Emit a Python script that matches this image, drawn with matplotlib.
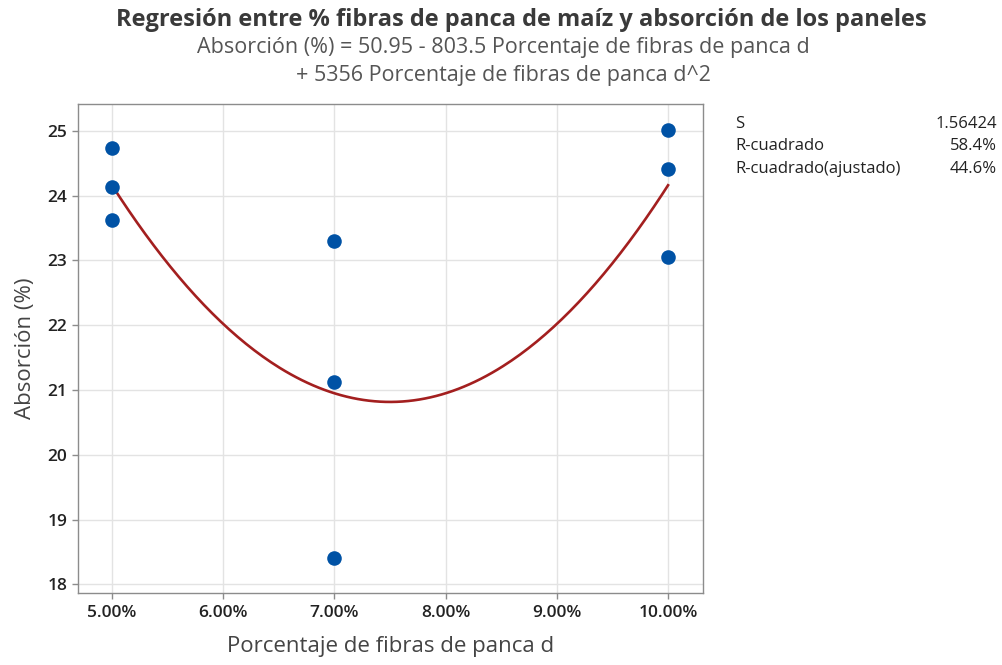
import numpy as np
import matplotlib
matplotlib.use('Agg')
import matplotlib.pyplot as plt
from matplotlib.ticker import FuncFormatter

plt.rcParams['font.family'] = ['Open Sans', 'DejaVu Sans']

# data (fraction of fibres, absorption %)
fibra = [0.05, 0.05, 0.05, 0.07, 0.07, 0.07, 0.10, 0.10, 0.10]
absorcion = [24.73, 24.14, 23.62, 23.30, 21.13, 18.40, 25.02, 24.41, 23.06]

# regression coefficients from the chart subtitle
coef_b0 = 50.95
coef_b1 = -803.5
coef_b2 = 5356

x_ticks = [0.05, 0.06, 0.07, 0.08, 0.09, 0.10]
y_ticks = [18, 19, 20, 21, 22, 23, 24, 25]

stat_names = ['S', 'R-cuadrado', 'R-cuadrado(ajustado)']
stat_values = ['1.56424', '58.4%', '44.6%']

fig = plt.figure(figsize=(10.03, 6.65), dpi=100)
ax = fig.add_axes([0.0775, 0.1087, 0.6235, 0.7345])

# fitted curve
xf = np.linspace(min(fibra), max(fibra), 200)
yf = coef_b0 + coef_b1 * xf + coef_b2 * xf ** 2
ax.plot(xf, yf, color='#A31F1F', lw=1.9, zorder=3)

ax.scatter(fibra, absorcion, s=110, color='#0052A5', zorder=4, linewidths=0)

ax.set_xlim(0.04694, 0.10315)
ax.set_ylim(17.87, 25.41)
ax.set_xticks(x_ticks)
ax.set_yticks(y_ticks)
ax.xaxis.set_major_formatter(FuncFormatter(lambda v, p: f'{v*100:.2f}%'))
ax.grid(True, color='#E3E3E3', lw=1.0, zorder=0)
ax.set_axisbelow(True)
for s in ax.spines.values():
    s.set_color('#8C8C8C')
    s.set_linewidth(1.0)
ax.tick_params(axis='both', colors='#8C8C8C', length=4, width=1, labelcolor='#222222',
               labelsize=12.5)
ax.tick_params(axis='x', pad=5)
for lab in ax.get_xticklabels() + ax.get_yticklabels():
    lab.set_fontweight('semibold')

ax.set_xlabel('Porcentaje de fibras de panca d', fontsize=16, color='#444444', labelpad=11)
ax.set_ylabel('Absorción (%)', fontsize=16, color='#444444', labelpad=8)

# titles
fig.text(0.52, 0.970, 'Regresión entre % fibras de panca de maíz y absorción de los paneles',
         ha='center', va='center', fontsize=17, fontweight='bold', color='#3A3A3A')
fig.text(0.502, 0.929, 'Absorción (%) = 50.95 - 803.5 Porcentaje de fibras de panca d',
         ha='center', va='center', fontsize=15.5, color='#555555')
fig.text(0.502, 0.886, '+ 5356 Porcentaje de fibras de panca d^2',
         ha='center', va='center', fontsize=15.5, color='#555555')

# stats table
for i, (n, v) in enumerate(zip(stat_names, stat_values)):
    yy = 1 - (124 + i * 22.5) / 665
    fig.text(735 / 1003, yy, n, ha='left', va='center', fontsize=12, color='#222222')
    fig.text(997 / 1003, yy, v, ha='right', va='center', fontsize=12, color='#222222')

fig.savefig('out.png', dpi=100)
